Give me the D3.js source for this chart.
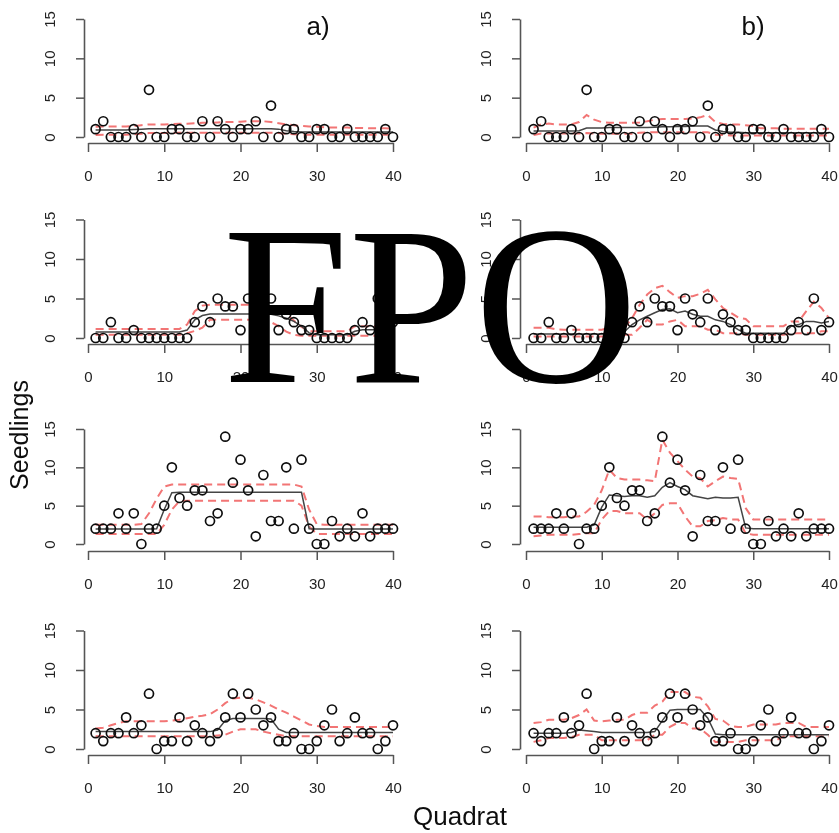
<!DOCTYPE html>
<html>
<head>
<meta charset="utf-8">
<script src="https://cdn.jsdelivr.net/npm/d3@7"></script>
<style>
  body { margin: 0; background: #fff; }
  svg { display: block; }
</style>
</head>
<body>
<svg id="chart" width="839" height="833"></svg>
<script>
  // x positions and axis ticks
  var quadrats = d3.range(1, 41);
  var xTicks = [0, 10, 20, 30, 40];
  var yTicks = [0, 5, 10, 15];
  var panelLabels = ["a)", "b)"];

  // seedling counts, one array per transect (row)
  var counts1 = [1,2,0,0,0,1,0,6,0,0, 1,1,0,0,2,0,2,1,0,1, 1,2,0,4,0,1,1,0,0,1, 1,0,0,1,0,0,0,0,1,0];
  var counts2 = [0,0,2,0,0,1,0,0,0,0, 0,0,0,2,4,2,5,4,4,1, 5,3,2,5,1,3,2,1,1,0, 0,0,0,0,1,2,1,5,1,2];
  var counts3 = [2,2,2,4,2,4,0,2,2,5, 10,6,5,7,7,3,4,14,8,11, 7,1,9,3,3,10,2,11,2,0, 0,3,1,2,1,4,1,2,2,2];
  var counts4 = [2,1,2,2,4,2,3,7,0,1, 1,4,1,3,2,1,2,4,7,4, 7,5,3,4,1,1,2,0,0,1, 3,5,1,2,4,2,2,0,1,3];

  // model a) : fitted mean, upper and lower bands
  var fitA1 = [0.9,0.9,0.9,0.9,0.9,0.95,1.0,1.05,1.05,1.05, 1.05,1.05,1.05,1.05,1.05,1.05,1.05,1.05,1.05,1.05, 1.05,1.05,1.05,1.05,1.0,0.8,0.7,0.65,0.65,0.65, 0.65,0.65,0.65,0.65,0.65,0.65,0.65,0.65,0.65,0.65];
  var upA1 = [1.3,1.35,1.35,1.35,1.35,1.4,1.5,1.6,1.6,1.6, 1.65,1.7,1.7,1.75,1.8,1.8,1.85,1.9,1.9,1.95, 2.0,2.0,2.0,1.9,1.75,1.6,1.5,1.4,1.35,1.3, 1.25,1.2,1.2,1.2,1.15,1.15,1.1,1.1,1.1,1.05];
  var loA1 = [0.25,0.3,0.3,0.3,0.3,0.35,0.4,0.5,0.5,0.5, 0.55,0.55,0.55,0.55,0.55,0.55,0.55,0.55,0.55,0.55, 0.55,0.55,0.55,0.55,0.5,0.4,0.35,0.3,0.3,0.3, 0.3,0.3,0.3,0.3,0.3,0.3,0.3,0.3,0.3,0.3];

  var fitA2 = [0.75,0.75,0.75,0.75,0.75,0.75,0.75,0.75,0.75,0.75, 0.75,0.75,1.0,2.3,2.85,3.05,3.05,3.05,3.05,3.05, 3.05,3.05,3.05,3.0,2.8,2.5,2.1,1.5,0.65,0.4, 0.4,0.4,0.4,0.4,0.85,1.05,1.05,1.05,1.05,1.05];
  var upA2 = [1.15,1.15,1.15,1.15,1.15,1.15,1.15,1.15,1.15,1.15, 1.15,1.15,1.7,3.4,4.1,4.2,4.2,4.2,4.2,4.2, 4.2,4.2,4.2,4.0,3.8,3.0,2.2,1.4,0.85,0.85, 0.85,0.85,0.85,0.85,1.5,1.5,1.5,1.5,1.5,1.5];
  var loA2 = [0.4,0.4,0.4,0.4,0.4,0.4,0.4,0.4,0.4,0.4, 0.4,0.4,0.6,0.9,1.3,2.3,2.3,2.3,2.3,2.3, 2.3,2.3,2.3,2.0,1.5,0.8,0.4,0.3,0.3,0.3, 0.3,0.3,0.3,0.3,0.3,0.3,0.3,0.3,0.3,0.3];

  var fitA3 = [1.95,1.95,1.95,1.95,1.95,1.95,1.95,1.95,2.0,4.5, 6.7,6.75,6.75,6.75,6.75,6.75,6.75,6.75,6.75,6.75, 6.75,6.75,6.75,6.75,6.75,6.75,6.75,6.75,2.0,1.95, 1.95,1.95,1.95,1.95,1.95,1.95,1.95,1.95,1.95,1.95];
  var upA3 = [2.5,2.5,2.5,2.5,2.5,2.5,2.6,4.0,5.9,7.5, 7.75,7.75,7.75,7.75,7.75,7.75,7.75,7.75,7.75,7.75, 7.75,7.75,7.75,7.75,7.75,7.75,7.75,7.5,4.5,2.6, 2.5,2.5,2.5,2.5,2.5,2.5,2.5,2.5,2.5,2.5];
  var loA3 = [1.3,1.3,1.3,1.3,1.3,1.3,1.3,1.3,1.3,2.5, 4.5,5.6,5.65,5.65,5.65,5.65,5.65,5.65,5.65,5.65, 5.65,5.65,5.65,5.65,5.65,5.65,5.65,5.0,2.3,1.3, 1.3,1.3,1.3,1.3,1.3,1.3,1.3,1.3,1.3,1.3];

  var fitA4 = [2.2,2.2,2.2,2.2,2.2,2.2,2.2,2.2,2.2,2.2, 2.2,2.2,2.2,2.2,2.2,2.2,2.4,3.6,3.85,3.85, 3.85,3.85,3.85,3.8,2.5,2.1,2.1,2.1,2.1,2.1, 2.1,2.1,2.1,2.1,2.1,2.1,2.1,2.1,2.1,2.1];
  var upA4 = [2.6,2.7,3.0,3.3,3.5,3.5,3.5,3.5,3.5,3.5, 3.6,3.7,3.9,4.1,4.2,4.4,5.0,5.8,6.4,6.5, 6.5,6.3,5.9,5.5,5.0,4.6,4.1,3.6,3.1,2.9, 2.8,2.8,2.8,2.8,2.8,2.8,2.8,2.8,2.8,2.8];
  var loA4 = [1.6,1.6,1.6,1.6,1.6,1.6,1.6,1.6,1.6,1.6, 1.6,1.6,1.6,1.6,1.6,1.6,1.7,1.8,2.2,2.5, 2.5,2.5,2.2,2.0,1.8,1.6,1.6,1.6,1.6,1.6, 1.6,1.6,1.6,1.6,1.6,1.6,1.6,1.6,1.6,1.6];

  // model b)
  var fitB1 = [0.75,0.75,0.75,0.75,0.75,0.75,0.8,1.15,1.15,1.15, 1.2,1.2,1.2,1.2,1.2,1.2,1.25,1.3,1.3,1.35, 1.35,1.4,1.4,1.4,0.9,0.7,0.6,0.6,0.55,0.55, 0.55,0.55,0.55,0.55,0.55,0.55,0.55,0.55,0.55,0.55];
  var upB1 = [1.2,1.6,1.7,1.6,1.6,1.6,1.9,2.8,2.2,1.9, 1.8,1.8,1.8,1.8,1.85,2.0,2.2,2.3,2.3,2.3, 2.3,2.35,2.5,2.8,1.9,1.65,1.6,1.6,1.5,1.4, 1.1,1.1,1.1,1.05,1.05,1.05,1.05,1.05,1.05,1.05];
  var loB1 = [0.25,0.45,0.45,0.45,0.45,0.45,0.45,0.5,0.45,0.4, 0.4,0.4,0.4,0.4,0.55,0.6,0.6,0.6,0.6,0.6, 0.6,0.6,0.6,0.6,0.3,0.25,0.2,0.2,0.2,0.2, 0.2,0.2,0.2,0.2,0.2,0.2,0.2,0.2,0.2,0.2];

  var fitB2 = [0.5,0.5,0.5,0.5,0.5,0.5,0.5,0.5,0.5,0.5, 0.5,0.5,0.8,1.7,2.3,2.75,3.2,3.6,3.7,3.2, 3.4,3.0,2.75,2.75,2.3,2.1,1.7,1.05,0.6,0.6, 0.6,0.6,0.6,0.6,1.5,1.7,2.1,2.1,1.9,2.1];
  var upB2 = [1.3,1.3,1.3,1.1,1.05,1.05,1.05,1.05,1.05,1.05, 1.3,1.3,1.3,2.5,4.2,5.5,6.3,6.6,5.8,5.1, 5.3,5.3,5.6,6.1,4.9,3.8,3.2,2.6,2.4,1.5, 1.5,1.5,1.5,1.5,2.1,2.1,3.4,4.6,3.8,2.5];
  var loB2 = [0.2,0.2,0.2,0.2,0.2,0.2,0.2,0.2,0.2,0.2, 0.2,0.2,0.4,0.4,1.3,2.3,1.7,1.7,2.1,2.3, 1.5,1.5,1.5,1.05,1.05,0.6,0.6,0.6,0.4,0.4, 0.4,0.4,0.4,0.4,0.6,0.6,0.6,0.6,0.85,0.85];

  var fitB3 = [2.2,2.2,2.2,2.2,2.2,2.2,2.2,2.2,2.5,4.8, 6.4,6.3,6.2,6.3,6.3,6.1,6.3,7.4,8.0,7.5, 7.1,6.3,6.1,5.9,6.1,6.0,6.0,6.1,2.1,2.0, 2.0,2.0,2.0,2.0,2.0,2.0,2.0,2.0,2.0,2.0];
  var upB3 = [3.6,3.6,3.5,3.5,3.5,3.6,3.6,4.2,5.1,7.0, 9.7,8.6,8.4,8.4,8.4,8.3,8.2,13.6,11.9,10.8, 9.7,8.8,8.6,7.5,8.2,8.8,8.6,8.5,4.7,3.2, 3.2,3.2,3.2,3.2,3.2,3.2,3.2,3.2,3.2,3.2];
  var loB3 = [1.0,1.1,1.2,1.2,1.2,1.2,1.3,1.4,1.4,3.2, 4.3,4.3,4.0,4.0,4.0,3.2,4.0,5.1,5.3,5.3, 3.6,2.3,2.3,3.0,3.1,3.4,3.2,3.2,1.4,1.2, 1.2,1.2,1.2,1.2,1.2,1.2,1.2,1.2,1.2,1.2];

  var fitB4 = [2.0,2.0,2.0,2.0,2.0,2.1,2.4,2.3,2.2,2.1, 2.1,2.1,2.1,2.1,2.1,2.1,2.2,3.6,4.9,5.0, 5.0,5.0,5.0,3.9,1.9,1.8,1.8,1.8,1.8,1.8, 1.8,1.8,1.8,1.8,1.8,1.8,1.8,1.8,1.8,1.8];
  var upB4 = [3.3,3.4,3.7,3.7,3.7,3.9,4.3,5.0,3.6,3.5, 3.6,3.7,3.7,4.3,4.6,4.6,5.5,6.0,7.2,7.2, 7.2,6.6,6.5,5.4,3.8,3.6,2.9,2.8,2.8,3.1, 3.1,3.1,3.1,3.3,3.3,3.3,2.8,2.8,2.8,2.8];
  var loB4 = [0.9,1.1,1.4,1.4,1.4,1.5,1.8,1.8,1.8,1.1, 1.1,1.1,1.1,1.1,1.1,1.1,1.8,1.8,2.8,3.3, 3.3,2.6,2.6,1.8,0.9,0.9,0.9,0.9,1.1,1.1, 1.1,1.1,1.1,1.6,1.6,1.6,1.6,1.6,1.6,1.6];

  var rowCounts = [counts1, counts2, counts3, counts4];
  var rowModels = [
    [[fitA1, upA1, loA1], [fitB1, upB1, loB1]],
    [[fitA2, upA2, loA2], [fitB2, upB2, loB2]],
    [[fitA3, upA3, loA3], [fitB3, upB3, loB3]],
    [[fitA4, upA4, loA4], [fitB4, upB4, loB4]]
  ];

  // panel geometry (pixels)
  var rowLayout = [
    { y0: 137, y15: 19, xAxisY: 143 },
    { y0: 338, y15: 219.5, xAxisY: 344 },
    { y0: 544, y15: 429, xAxisY: 551 },
    { y0: 749, y15: 630.5, xAxisY: 755 }
  ];
  var colLayout = [
    { axisX: 84, left: 88, right: 393, labelX: 318 },
    { axisX: 520, left: 526, right: 829, labelX: 753 }
  ];

  var svg = d3.select("#chart");
  var font = "'Liberation Sans', Arial, Helvetica, sans-serif";

  var soft = svg.append("defs").append("filter").attr("id", "soft");
  soft.append("feGaussianBlur").attr("stdDeviation", 0.45);

  var plots = svg.append("g").attr("filter", "url(#soft)");

  rowLayout.forEach(function (row, r) {
    colLayout.forEach(function (col, c) {
      var x = d3.scaleLinear().domain([0, 40]).range([col.left, col.right]);
      var y = d3.scaleLinear().domain([0, 15]).range([row.y0, row.y15]);
      var g = plots.append("g");

      // y axis, R style with rotated labels
      var yAxis = g.append("g")
        .attr("transform", "translate(" + col.axisX + ",0)")
        .call(d3.axisLeft(y).tickValues(yTicks).tickSize(8).tickSizeOuter(0));
      yAxis.selectAll("text")
        .attr("x", null)
        .attr("dy", null)
        .attr("text-anchor", "middle")
        .attr("transform", "translate(-29,0) rotate(-90)");

      // x axis
      var xAxis = g.append("g")
        .attr("transform", "translate(0," + row.xAxisY + ")")
        .call(d3.axisBottom(x).tickValues(xTicks).tickSize(9).tickSizeOuter(0).tickPadding(18));

      [yAxis, xAxis].forEach(function (ax) {
        ax.attr("font-family", font).attr("font-size", 15);
        ax.select(".domain").attr("stroke", "#555").attr("stroke-width", 1.6);
        ax.selectAll(".tick line").attr("stroke", "#555").attr("stroke-width", 1.5);
        ax.selectAll(".tick text").attr("fill", "#222");
      });

      var line = d3.line()
        .x(function (d, i) { return x(quadrats[i]); })
        .y(function (d) { return y(d); });

      var model = rowModels[r][c];

      // dashed bands
      [model[1], model[2]].forEach(function (band) {
        g.append("path")
          .datum(band)
          .attr("d", line)
          .attr("fill", "none")
          .attr("stroke", "#f27474")
          .attr("stroke-width", 2)
          .attr("stroke-dasharray", "8,5");
      });

      // fitted mean
      g.append("path")
        .datum(model[0])
        .attr("d", line)
        .attr("fill", "none")
        .attr("stroke", "#444")
        .attr("stroke-width", 1.5);

      // observed counts
      g.selectAll("circle")
        .data(rowCounts[r])
        .join("circle")
        .attr("cx", function (d, i) { return x(quadrats[i]); })
        .attr("cy", function (d) { return y(d); })
        .attr("r", 4.5)
        .attr("fill", "none")
        .attr("stroke", "#111")
        .attr("stroke-width", 1.7);

      if (r === 0) {
        plots.append("text")
          .attr("x", col.labelX)
          .attr("y", 35)
          .attr("text-anchor", "middle")
          .attr("font-family", font)
          .attr("font-size", 26)
          .attr("fill", "#111")
          .text(panelLabels[c]);
      }
    });
  });

  // shared axis titles
  plots.append("text")
    .attr("transform", "translate(28,435) rotate(-90)")
    .attr("text-anchor", "middle")
    .attr("font-family", font)
    .attr("font-size", 25)
    .attr("fill", "#111")
    .text("Seedlings");

  plots.append("text")
    .attr("x", 460)
    .attr("y", 825)
    .attr("text-anchor", "middle")
    .attr("font-family", font)
    .attr("font-size", 26)
    .attr("fill", "#111")
    .text("Quadrat");

  // placeholder stamp over the figure
  svg.append("text")
    .attr("x", 223)
    .attr("y", 382)
    .attr("font-family", "'Liberation Serif', 'Times New Roman', serif")
    .attr("font-size", 226)
    .attr("fill", "#000")
    .text("FPO");
</script>
</body>
</html>
